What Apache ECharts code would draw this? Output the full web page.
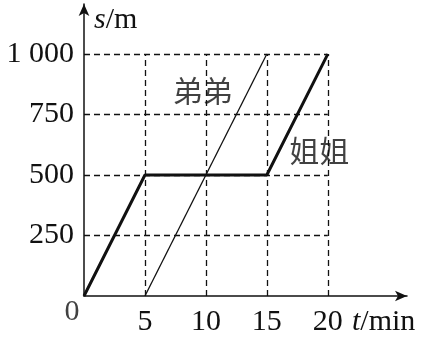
<!DOCTYPE html>
<html><head><meta charset="utf-8">
<script src="https://cdn.jsdelivr.net/npm/echarts@6/dist/echarts.min.js"></script>
<style>html,body{margin:0;padding:0;background:#fff}#c{width:427px;height:338px}</style>
</head><body><div id="c"></div>
<script>
const timeTicks = [5, 10, 15, 20];
const distTicks = [250, 500, 750, 1000];
const sisterT = [0, 5, 15, 20];
const sisterS = [0, 500, 500, 1000];
const brotherT = [5, 15];
const brotherS = [0, 1000];
const seriesNames = ['弟弟', '姐姐'];
const nameAt = [[9.75, 851], [19.3, 599]];

const num = 'Liberation Serif, Times New Roman, serif';
const cjk = 'Noto Sans CJK SC, sans-serif';
const ink = '#111';

const gridLines = [];
timeTicks.forEach(t => gridLines.push([{coord: [t, 0]}, {coord: [t, 1000]}]));
distTicks.forEach(s => gridLines.push([{coord: [0, s]}, {coord: [20, s]}]));

const chart = echarts.init(document.getElementById('c'));
chart.setOption({
  animation: false,
  backgroundColor: '#fff',
  grid: {left: 84, right: 20, top: 4, bottom: 42},
  xAxis: {
    type: 'value', min: 0, max: 26.5, interval: 5,
    axisLine: {show: true, symbol: ['none', 'arrow'], symbolSize: [8, 12], lineStyle: {color: ink, width: 1.5}},
    axisTick: {show: false}, splitLine: {show: false},
    axisLabel: {margin: 11, color: ink, fontFamily: num, fontSize: 30,
      formatter: v => (v > 0 && v <= 20) ? String(v) : ''},
    name: '{i|t}/min', nameLocation: 'end', nameGap: -55,
    nameTextStyle: {color: ink, fontFamily: num, fontSize: 30, align: 'left', verticalAlign: 'top', padding: [11, 0, 0, 0],
      rich: {i: {fontStyle: 'italic', fontFamily: num, fontSize: 30, color: ink}}}
  },
  yAxis: {
    type: 'value', min: 0, max: 1207, interval: 250,
    axisLine: {show: true, symbol: ['none', 'arrow'], symbolSize: [8, 12], lineStyle: {color: ink, width: 1.5}},
    axisTick: {show: false}, splitLine: {show: false},
    axisLabel: {margin: 10, color: ink, fontFamily: num, fontSize: 30,
      formatter: v => (v > 0 && v <= 1000) ? (v === 1000 ? '1 000' : String(v)) : ''},
    name: '{i|s}/m', nameLocation: 'end', nameGap: 0,
    nameTextStyle: {color: ink, fontFamily: num, fontSize: 30, align: 'left', verticalAlign: 'top', padding: [1, 0, 0, 10],
      rich: {i: {fontStyle: 'italic', fontFamily: num, fontSize: 30, color: ink}}}
  },
  series: [
    {type: 'line', data: [], silent: true,
      markLine: {silent: true, symbol: 'none', label: {show: false},
        lineStyle: {type: [6, 4], color: ink, width: 1.3}, data: gridLines}},
    {type: 'line', name: seriesNames[1], data: sisterT.map((t, i) => [t, sisterS[i]]),
      showSymbol: false, lineStyle: {color: ink, width: 3}},
    {type: 'line', name: seriesNames[0], data: brotherT.map((t, i) => [t, brotherS[i]]),
      showSymbol: false, lineStyle: {color: ink, width: 1.3}},
    {type: 'scatter', symbolSize: 0, silent: true,
      data: seriesNames.map((n, i) => ({name: n, value: nameAt[i]})),
      label: {show: true, position: 'inside', formatter: p => p.name, color: ink, fontFamily: cjk, fontSize: 30}},
    {type: 'scatter', symbolSize: 0, silent: true, data: [[0, 0]],
      label: {show: true, position: 'inside', offset: [-12, 16], formatter: '0', color: ink, fontFamily: num, fontSize: 30}}
  ]
});
</script></body></html>
